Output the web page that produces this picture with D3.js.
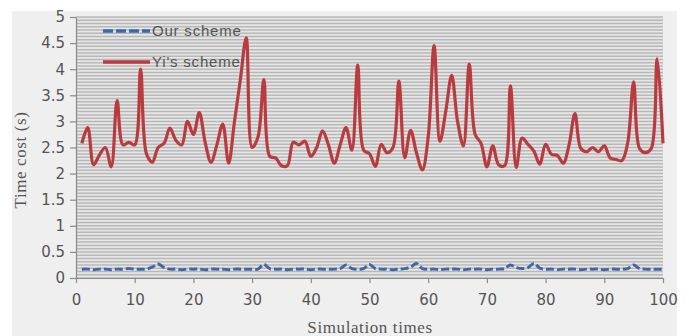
<!DOCTYPE html>
<html>
<head>
<meta charset="utf-8">
<script src="https://cdn.jsdelivr.net/npm/d3@7"></script>
<style>
  body { margin: 0; background: #fff; }
  svg { display: block; }
</style>
</head>
<body>
<div id="chart-area"></div>
<script>
// simulation runs 1..100
const runs = d3.range(1, 101)

// Yi's scheme time cost (s)
const yiScheme = [
  2.58, 2.88, 2.17, 2.36, 2.50, 2.13, 3.40, 2.55, 2.60, 2.55,
  4.00, 2.38, 2.22, 2.50, 2.58, 2.87, 2.64, 2.55, 3.00, 2.75,
  3.17, 2.60, 2.22, 2.55, 2.95, 2.20, 3.00, 3.80, 4.60, 2.50,
  2.70, 3.80, 2.33, 2.30, 2.15, 2.15, 2.60, 2.55, 2.62, 2.33,
  2.50, 2.82, 2.55, 2.20, 2.55, 2.88, 2.45, 4.08, 2.45, 2.38,
  2.14, 2.56, 2.40, 2.50, 3.77, 2.30, 2.83, 2.40, 2.07, 2.70,
  4.45, 2.62, 3.20, 3.88, 3.00, 2.53, 4.10, 2.75, 2.58, 2.13,
  2.53, 2.17, 2.15, 3.68, 2.12, 2.68, 2.56, 2.43, 2.18, 2.56,
  2.37, 2.35, 2.20, 2.55, 3.15, 2.48, 2.42, 2.50, 2.42, 2.53,
  2.30, 2.27, 2.25, 2.60, 3.76, 2.48, 2.40, 2.48, 4.20, 2.58
]

// our scheme time cost (s)
const ourScheme = [
  0.17, 0.17, 0.16, 0.17, 0.17, 0.16, 0.17, 0.17, 0.18, 0.17,
  0.17, 0.17, 0.21, 0.27, 0.20, 0.17, 0.17, 0.16, 0.17, 0.17,
  0.17, 0.16, 0.17, 0.17, 0.17, 0.16, 0.17, 0.17, 0.17, 0.17,
  0.17, 0.26, 0.18, 0.17, 0.17, 0.16, 0.17, 0.17, 0.17, 0.16,
  0.17, 0.17, 0.17, 0.17, 0.18, 0.25, 0.18, 0.17, 0.18, 0.26,
  0.18, 0.17, 0.17, 0.16, 0.17, 0.18, 0.21, 0.28, 0.18, 0.17,
  0.17, 0.16, 0.17, 0.17, 0.17, 0.16, 0.17, 0.17, 0.17, 0.16,
  0.17, 0.17, 0.18, 0.25, 0.20, 0.18, 0.20, 0.28, 0.19, 0.17,
  0.17, 0.16, 0.17, 0.17, 0.17, 0.16, 0.17, 0.17, 0.17, 0.16,
  0.17, 0.17, 0.17, 0.18, 0.25, 0.18, 0.17, 0.17, 0.17, 0.17
]

const xTicks = d3.range(0, 101, 10)
const yTicks = d3.range(0, 5.01, 0.5)
const gridValues = d3.range(0, 5.001, 0.0625)
const seriesNames = ["Our scheme", "Yi's scheme"]

const W = 689, H = 336
const MARGIN = { LEFT: 76, RIGHT: 26, TOP: 17, BOTTOM: 58 }
const WIDTH = W - MARGIN.LEFT - MARGIN.RIGHT
const HEIGHT = H - MARGIN.TOP - MARGIN.BOTTOM

const svg = d3.select("#chart-area")
  .append("svg")
    .attr("width", W)
    .attr("height", H)

// gray panel behind the chart
svg.append("rect")
  .attr("x", 12).attr("y", 11)
  .attr("width", 665).attr("height", H - 11)
  .attr("fill", "#efefef")

const g = svg.append("g")
  .attr("transform", `translate(${MARGIN.LEFT}, ${MARGIN.TOP})`)

const x = d3.scaleLinear().domain([0, 100]).range([0, WIDTH])
const y = d3.scaleLinear().domain([0, 5]).range([HEIGHT, 0])

// plot background + dense gridlines
g.append("rect")
  .attr("width", WIDTH).attr("height", HEIGHT)
  .attr("fill", "#e6e6e6")

g.append("g")
  .selectAll("line")
  .data(gridValues)
  .enter().append("line")
    .attr("x1", 0).attr("x2", WIDTH)
    .attr("y1", d => y(d)).attr("y2", d => y(d))
    .attr("stroke", "#b8b8b8")
    .attr("stroke-width", 1.5)

// axes
const xAxis = g.append("g")
  .attr("transform", `translate(0, ${HEIGHT})`)
  .call(d3.axisBottom(x).tickValues(xTicks).tickSize(5).tickSizeOuter(0).tickPadding(8))

const yAxis = g.append("g")
  .call(d3.axisLeft(y).tickValues(yTicks).tickSize(6).tickSizeOuter(0).tickPadding(5)
    .tickFormat(d => d3.format("~g")(d)))

;[xAxis, yAxis].forEach(a => {
  a.select(".domain").attr("stroke", "#8a8a8a").attr("stroke-width", 1.2)
  a.selectAll(".tick line").attr("stroke", "#8a8a8a").attr("stroke-width", 1.2)
  a.selectAll(".tick text")
    .attr("font-family", "DejaVu Sans, sans-serif")
    .attr("font-size", "15px")
    .attr("fill", "#555")
})
xAxis.selectAll(".tick text").attr("dy", "0.9em")

// lines
const smoothLine = d3.line()
  .x((d, i) => x(runs[i]))
  .y(d => y(d))
  .curve(d3.curveCatmullRom.alpha(0.5))

g.append("path")
  .datum(yiScheme)
  .attr("d", smoothLine)
  .attr("fill", "none")
  .attr("stroke", "#b93b3f")
  .attr("stroke-width", 3.2)
  .attr("stroke-linejoin", "round")

g.append("path")
  .datum(ourScheme)
  .attr("d", smoothLine)
  .attr("fill", "none")
  .attr("stroke", "#3d68aa")
  .attr("stroke-width", 3)
  .attr("stroke-dasharray", "8,3")

// legend
const legend = g.append("g")
const legendStyles = [
  { color: "#3d68aa", dash: "10,3", y: 14 },
  { color: "#b93b3f", dash: null, y: 45 }
]
seriesNames.forEach((name, i) => {
  const s = legendStyles[i]
  legend.append("line")
    .attr("x1", 27).attr("x2", 74)
    .attr("y1", s.y).attr("y2", s.y)
    .attr("stroke", s.color)
    .attr("stroke-width", 3.5)
    .attr("stroke-dasharray", s.dash)
  legend.append("text")
    .attr("x", 76).attr("y", s.y + 5)
    .attr("font-family", "Liberation Sans, Arial, sans-serif")
    .attr("font-size", "15px")
    .attr("letter-spacing", "0.8px")
    .attr("fill", "#555")
    .text(name)
})

// axis titles
svg.append("text")
  .attr("x", 370)
  .attr("y", 333)
  .attr("text-anchor", "middle")
  .attr("font-family", "Liberation Serif, Times New Roman, serif")
  .attr("font-size", "17px")
  .attr("letter-spacing", "0.6px")
  .attr("fill", "#555")
  .text("Simulation times")

svg.append("text")
  .attr("transform", "translate(26, 160) rotate(-90)")
  .attr("text-anchor", "middle")
  .attr("font-family", "Liberation Serif, Times New Roman, serif")
  .attr("font-size", "17px")
  .attr("letter-spacing", "0.6px")
  .attr("fill", "#555")
  .text("Time cost (s)")
</script>
</body>
</html>
